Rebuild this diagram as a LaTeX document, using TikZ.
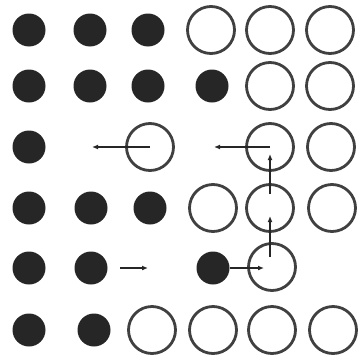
\documentclass[tikz,border=0pt]{standalone}
\usetikzlibrary{arrows.meta}
\begin{document}
\begin{tikzpicture}[
    x=1pt, y=-1pt,
    atom/.style={
      circle,
      fill=black!85,
      minimum size=33pt,
      inner sep=0pt
    },
    hole/.style={
      circle,
      draw=black!75,
      line width=2.8pt,
      minimum size=47pt,
      inner sep=0pt
    },
    jump/.style={line width=1.5pt, draw=black!85, -{Latex[length=6pt,width=5pt]}}
  ]
    \useasboundingbox (0,0) rectangle (361,359);

    % row 1
    \node[atom] (a11) at (29,30) {};
    \node[atom] (a12) at (90,30) {};
    \node[atom] (a13) at (148,30) {};
    \node[hole] (h14) at (211,30) {};
    \node[hole] (h15) at (270,30) {};
    \node[hole] (h16) at (330,30) {};

    % row 2
    \node[atom] (a21) at (29,86) {};
    \node[atom] (a22) at (90,86) {};
    \node[atom] (a23) at (148,86) {};
    \node[atom] (a24) at (212,86) {};
    \node[hole] (h25) at (270,86) {};
    \node[hole] (h26) at (330,86) {};

    % row 3
    \node[atom] (a31) at (29,147) {};
    \node[hole] (h33) at (150,147) {};
    \node[hole] (h35) at (270,147) {};
    \node[hole] (h36) at (331,147) {};

    % row 4
    \node[atom] (a41) at (29,208) {};
    \node[atom] (a42) at (91,208) {};
    \node[atom] (a43) at (150,208) {};
    \node[hole] (h44) at (213,208) {};
    \node[hole] (h45) at (270,208) {};
    \node[hole] (h46) at (332,208) {};

    % row 5
    \node[atom] (a51) at (29,268) {};
    \node[atom] (a52) at (91,268) {};
    \node[atom] (a54) at (213,268) {};
    \node[hole] (h55) at (272,267) {};

    % row 6
    \node[atom] (a61) at (29,330) {};
    \node[atom] (a62) at (94,330) {};
    \node[hole] (h63) at (152,330) {};
    \node[hole] (h64) at (213,330) {};
    \node[hole] (h65) at (272,330) {};
    \node[hole] (h66) at (333,330) {};

    % jump ends
    \coordinate (t32) at (92,147);
    \coordinate (t34) at (214,147);
    \coordinate (s45) at (270,194);
    \coordinate (t35) at (270,154);
    \coordinate (s55) at (270,257);
    \coordinate (t45) at (270,216);
    \coordinate (s53) at (120,268);
    \coordinate (t53) at (148,268);
    \coordinate (t55) at (264,268);

    \draw[jump] (h33.center) -- (t32);
    \draw[jump] (h35.center) -- (t34);
    \draw[jump] (s45) -- (t35);
    \draw[jump] (s55) -- (t45);
    \draw[jump] (s53) -- (t53);
    \draw[jump] (a54) -- (t55);
\end{tikzpicture}
\end{document}
